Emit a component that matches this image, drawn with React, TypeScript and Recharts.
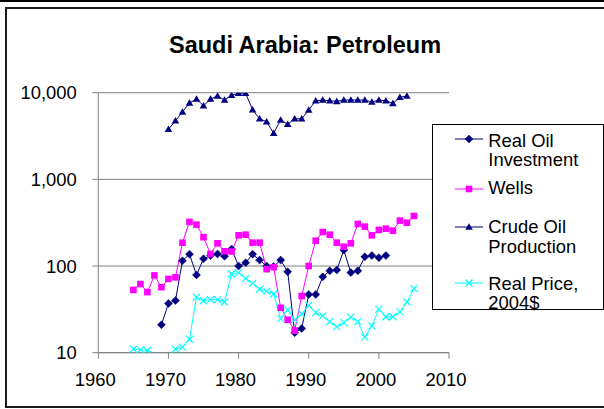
import React from 'react';
import { LineChart, Line, XAxis, YAxis, CartesianGrid } from 'recharts';

// Years on the shared x axis
const years = [
  1965, 1966, 1967, 1968, 1969, 1970, 1971, 1972, 1973, 1974,
  1975, 1976, 1977, 1978, 1979, 1980, 1981, 1982, 1983, 1984,
  1985, 1986, 1987, 1988, 1989, 1990, 1991, 1992, 1993, 1994,
  1995, 1996, 1997, 1998, 1999, 2000, 2001, 2002, 2003, 2004, 2005,
];

// Real oil investment, 1969-2001
const investmentStart = 1969;
const investment = [
  21, 37, 40, 115, 137, 79, 121, 132, 138, 130, 157, 100, 109, 137, 117, 100, 99,
  117, 86, 17, 19, 47, 47, 75, 88, 90, 153, 84, 88, 128, 132, 125, 132,
];

// Wells drilled, 1965-2005
const wellsStart = 1965;
const wells = [
  53, 62, 50, 78, 57, 71, 74, 186, 323, 300, 215, 138, 183, 148, 147, 226, 230, 186,
  186, 92, 97, 33, 24, 18, 45, 100, 196, 247, 230, 186, 167, 183, 306, 285, 226, 261,
  270, 256, 334, 316, 378,
];

// Crude oil production, 1970-2004
const crudeStart = 1970;
const crude = [
  3790, 4750, 5990, 7600, 8450, 7070, 8450, 9160, 8240, 9330, 9900, 9840, 6350, 5000,
  4630, 3400, 4840, 4320, 5000, 5000, 6310, 8080, 8240, 8070, 7950, 8240, 8240, 8240,
  8240, 7810, 8240, 8070, 7540, 8850, 9160,
];

// Real price in 2004 dollars, 1965-2005
const priceStart = 1965;
const price = [
  11.0, 10.8, 10.6, 9.9, 9.4, 8.9, 11.0, 11.6, 14.3, 43.7, 39.8, 41, 41, 38.5, 81, 84,
  72, 63, 54, 51, 47.6, 24.7, 31.2, 23.9, 28, 35.3, 29, 26.6, 22.8, 20, 22.2, 25.7,
  22.8, 15.1, 20.4, 31.8, 26, 26, 29.6, 38.5, 54.8,
];

const xTicks = [1960, 1970, 1980, 1990, 2000, 2010];
const yTicks = [10, 100, 1000, 10000];

const pick = (arr: number[], start: number, year: number) => {
  const i = year - start;
  return i >= 0 && i < arr.length ? arr[i] : null;
};

const data = years.map((year) => ({
  year,
  investment: pick(investment, investmentStart, year),
  wells: pick(wells, wellsStart, year),
  crude: pick(crude, crudeStart, year),
  price: pick(price, priceStart, year),
}));

const FONT = '"Liberation Sans", Arial, sans-serif';
const NAVY = '#000080';
const MAGENTA = '#FF00FF';
const CYAN = '#00FFFF';

const Marker = ({ shape, color, cx, cy }: any) => {
  if (shape === 'diamond') {
    return <polygon points={`${cx},${cy - 4} ${cx + 4},${cy} ${cx},${cy + 4} ${cx - 4},${cy}`} fill={color} stroke={color} strokeWidth={0.5} />;
  }
  if (shape === 'square') {
    return <rect x={cx - 3.3} y={cy - 3.3} width={6.6} height={6.6} fill={color} />;
  }
  if (shape === 'triangle') {
    return <polygon points={`${cx},${cy - 3.8} ${cx + 3.8},${cy + 2.8} ${cx - 3.8},${cy + 2.8}`} fill={color} />;
  }
  return (
    <g stroke={color} strokeWidth={1.2}>
      <line x1={cx - 3.5} y1={cy - 3.5} x2={cx + 3.5} y2={cy + 3.5} />
      <line x1={cx - 3.5} y1={cy + 3.5} x2={cx + 3.5} y2={cy - 3.5} />
    </g>
  );
};

const makeDot = (shape: string, color: string) => (props: any) => {
  const { cx, cy, index, value } = props;
  if (cx == null || cy == null || value == null || value < 10) return <g key={`e${index}`} />;
  return (
    <g key={`d${index}`}>
      <Marker shape={shape} color={color} cx={cx} cy={cy} />
    </g>
  );
};

const legendItems = [
  { lines: ['Real Oil', 'Investment'], color: NAVY, shape: 'diamond', lineY: 14.3, textTop: 5.7 },
  { lines: ['Wells'], color: MAGENTA, shape: 'square', lineY: 64, textTop: 53 },
  { lines: ['Crude Oil', 'Production'], color: NAVY, shape: 'triangle', lineY: 101.7, textTop: 92.3 },
  { lines: ['Real Price,', '2004$'], color: CYAN, shape: 'x', lineY: 157.7, textTop: 149 },
];

const ChartLegend = () => (
  <div
    style={{
      position: 'absolute',
      left: 432,
      top: 124,
      width: 170,
      height: 184,
      border: '1px solid #000',
      background: '#fff',
      fontFamily: FONT,
      fontSize: 18.4,
      lineHeight: '19.4px',
      color: '#000',
    }}
  >
    {legendItems.map((item) => (
      <React.Fragment key={item.lines[0]}>
        <svg style={{ position: 'absolute', left: 20, top: item.lineY - 6 }} width={32} height={12}>
          <line x1={2} y1={6} x2={30} y2={6} stroke={item.color} strokeWidth={1} />
          <Marker shape={item.shape} color={item.color} cx={16} cy={6} />
        </svg>
        <div style={{ position: 'absolute', left: 55.3, top: item.textTop, whiteSpace: 'nowrap' }}>
          {item.lines.map((l) => (
            <div key={l}>{l}</div>
          ))}
        </div>
      </React.Fragment>
    ))}
  </div>
);

const App = () => {
  const tickStyle = { fontFamily: FONT, fontSize: 18.4, fill: '#000' };
  return (
    <div
      style={{
        position: 'absolute',
        left: 0,
        top: 0,
        width: 604,
        height: 409,
        overflow: 'hidden',
        background: '#fff',
      }}
    >
      <div style={{ position: 'absolute', left: 0, top: 0, width: 604, height: 2, background: '#000' }} />
      <div
        style={{
          position: 'absolute',
          left: 5,
          top: 7,
          width: 700,
          height: 397,
          border: '2px solid #1a1a1a',
        }}
      />
      <LineChart
        width={604}
        height={409}
        data={data}
        margin={{ top: 92.7, right: 155, bottom: 0, left: 8 }}
        style={{ position: 'absolute', left: 0, top: 0 }}
      >
        <CartesianGrid vertical={false} stroke="#808080" horizontalValues={yTicks} />
        <XAxis
          dataKey="year"
          type="number"
          domain={[1960, 2010]}
          ticks={xTicks}
          height={56.3}
          tickSize={6}
          tickMargin={14.6}
          stroke="#808080"
          tick={{ ...tickStyle, dx: -3 }}
          allowDataOverflow
        />
        <YAxis
          scale="log"
          domain={[10, 10000]}
          ticks={yTicks}
          width={90.3}
          tickSize={6}
          tickMargin={15.6}
          stroke="#808080"
          tick={tickStyle}
          tickFormatter={(v: number) => v.toLocaleString('en-US')}
          allowDataOverflow
        />
        <Line
          dataKey="investment"
          stroke={NAVY}
          strokeWidth={1}
          dot={makeDot('diamond', NAVY)}
          isAnimationActive={false}
        />
        <Line
          dataKey="wells"
          stroke={MAGENTA}
          strokeWidth={1}
          dot={makeDot('square', MAGENTA)}
          isAnimationActive={false}
        />
        <Line
          dataKey="crude"
          stroke={NAVY}
          strokeWidth={1}
          dot={makeDot('triangle', NAVY)}
          isAnimationActive={false}
        />
        <Line
          dataKey="price"
          stroke={CYAN}
          strokeWidth={1}
          dot={makeDot('x', CYAN)}
          isAnimationActive={false}
        />
      </LineChart>
      <div
        style={{
          position: 'absolute',
          left: 0,
          top: 31.4,
          width: 610,
          textAlign: 'center',
          fontFamily: FONT,
          fontWeight: 'bold',
          fontSize: 23.5,
          lineHeight: '28px',
          color: '#000',
        }}
      >
        Saudi Arabia: Petroleum
      </div>
      <ChartLegend />
    </div>
  );
};

export default App;
